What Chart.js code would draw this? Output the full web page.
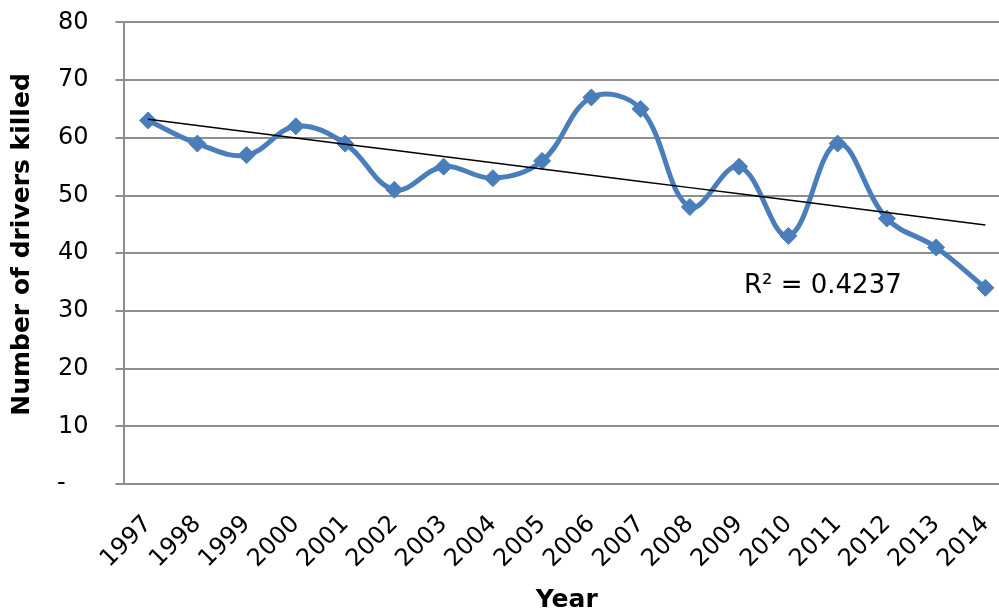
<!DOCTYPE html>
<html>
<head>
<meta charset="utf-8">
<title>Number of drivers killed by year</title>
<script src="https://cdn.jsdelivr.net/npm/chart.js@4/dist/chart.umd.min.js"></script>
<style>
  html, body { margin: 0; padding: 0; background: #fff; overflow: hidden; }
  #wrap { width: 999px; height: 614px; overflow: hidden; position: relative; }
  canvas { display: block; position: absolute; left: 0; top: -19px; }
</style>
</head>
<body>
<div id="wrap"><canvas id="chart" width="1024" height="633"></canvas></div>
<script>
// Yearly count of drivers killed, 1997–2014
const years = ['1997', '1998', '1999', '2000', '2001', '2002', '2003', '2004', '2005',
               '2006', '2007', '2008', '2009', '2010', '2011', '2012', '2013', '2014'];
const driversKilled = [63, 59, 57, 62, 59, 51, 55, 53, 56, 67, 65, 48, 55, 43, 59, 46, 41, 34];
const yTicks = [0, 10, 20, 30, 40, 50, 60, 70, 80];

// Least-squares linear trend over the series
function linearFit(values) {
  const n = values.length;
  const mx = (n - 1) / 2;
  const my = values.reduce((a, b) => a + b, 0) / n;
  let sxy = 0, sxx = 0, syy = 0;
  values.forEach((y, x) => {
    sxy += (x - mx) * (y - my);
    sxx += (x - mx) * (x - mx);
    syy += (y - my) * (y - my);
  });
  const slope = sxy / sxx;
  const intercept = my - slope * mx;
  return {
    line: values.map((_, x) => intercept + slope * x),
    r2: (sxy * sxy) / (sxx * syy)
  };
}
const trend = linearFit(driversKilled);
const r2Text = 'R\u00B2 = ' + trend.r2.toFixed(4);
// where the R² text sits, in data units (category index, value)
const r2Anchor = { index: 13.7, value: 34.3 };

const FONT = '"DejaVu Sans", Verdana, sans-serif';
const GRID = '#8e8e8e';
const BLUE = '#4a7ebb';

const r2Label = {
  id: 'r2Label',
  afterDatasetsDraw(chart) {
    const { ctx, scales: { x, y } } = chart;
    ctx.save();
    ctx.font = '26px ' + FONT;
    ctx.fillStyle = '#000';
    ctx.textAlign = 'center';
    ctx.textBaseline = 'middle';
    ctx.fillText(r2Text, x.getPixelForValue(r2Anchor.index), y.getPixelForValue(r2Anchor.value));
    ctx.restore();
  }
};

new Chart(document.getElementById('chart'), {
  type: 'line',
  data: {
    labels: years,
    datasets: [
      {
        label: 'Linear trend',
        data: trend.line,
        borderColor: '#000',
        borderWidth: 1.5,
        pointRadius: 0,
        tension: 0,
        order: 0
      },
      {
        label: 'Drivers killed',
        data: driversKilled,
        borderColor: BLUE,
        backgroundColor: BLUE,
        borderWidth: 5,
        pointStyle: 'rectRot',
        pointRadius: 8.5,
        pointBorderWidth: 1,
        pointBackgroundColor: BLUE,
        pointBorderColor: BLUE,
        tension: 0.38,
        order: 1
      }
    ]
  },
  options: {
    responsive: false,
    animation: false,
    layout: { padding: { top: 3, right: 2, bottom: 0, left: 0 } },
    plugins: {
      legend: { display: false },
      tooltip: { enabled: false }
    },
    scales: {
      x: {
        offset: true,
        grid: { display: false },
        border: { display: true, color: GRID, width: 2 },
        ticks: {
          autoSkip: false,
          minRotation: 45,
          maxRotation: 45,
          padding: 18,
          color: '#000',
          font: { family: FONT, size: 24 }
        },
        title: {
          display: true,
          text: 'Year',
          color: '#000',
          font: { family: FONT, size: 25, weight: 'bold', lineHeight: 1 },
          padding: { top: 0, bottom: 1 }
        },
        afterFit(scale) { scale.height = 130; }
      },
      y: {
        min: 0,
        max: 80,
        afterBuildTicks(scale) { scale.ticks = yTicks.map(v => ({ value: v })); },
        grid: { color: GRID, lineWidth: 2, tickLength: 8, drawTicks: true },
        border: { display: true, color: GRID, width: 2 },
        ticks: {
          padding: 27,
          color: '#000',
          font: { family: FONT, size: 24 },
          callback: v => (v === 0 ? '-   ' : String(v))
        },
        title: {
          display: true,
          text: '\u0020\u0020Number of drivers killed',
          color: '#000',
          font: { family: FONT, size: 25, weight: 'bold', lineHeight: 1 },
          padding: { top: 10, bottom: 0 }
        },
        afterFit(scale) { scale.width = 123.5; }
      }
    }
  },
  plugins: [r2Label]
});
</script>
</body>
</html>
